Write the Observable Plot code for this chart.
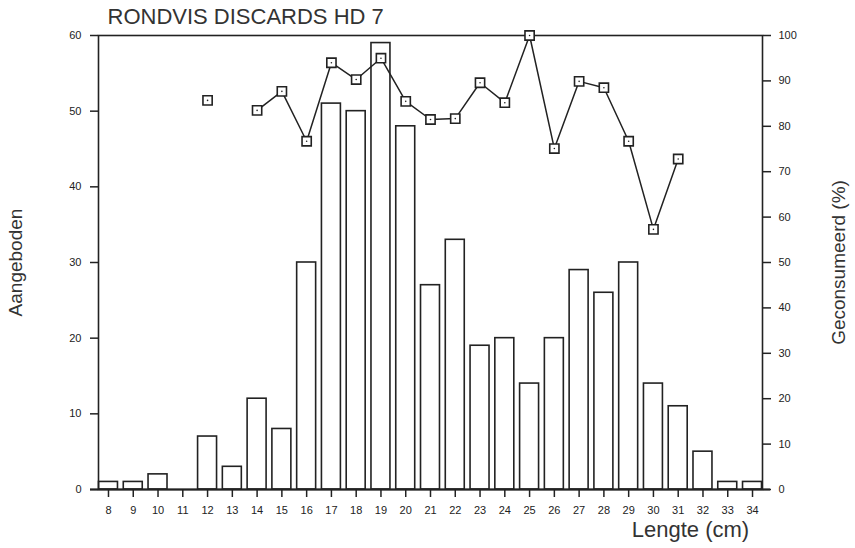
<!DOCTYPE html>
<html>
<head>
<meta charset="utf-8">
<script src="https://cdn.jsdelivr.net/npm/d3@7"></script>
<script src="https://cdn.jsdelivr.net/npm/@observablehq/plot@0.6"></script>
<style>
  html, body { margin: 0; padding: 0; background: #fff; }
  svg { font-family: "Liberation Sans", Arial, sans-serif; }
</style>
</head>
<body>
<div id="chart"></div>
<script>
const title = "RONDVIS DISCARDS HD 7";
const xLabel = "Lengte (cm)";
const yLeftLabel = "Aangeboden";
const yRightLabel = "Geconsumeerd (%)";

const lengths = [8, 9, 10, 11, 12, 13, 14, 15, 16, 17, 18, 19, 20, 21, 22, 23, 24, 25, 26, 27, 28, 29, 30, 31, 32, 33, 34];
const offered = [1, 1, 2, 0, 7, 3, 12, 8, 30, 51, 50, 59, 48, 27, 33, 19, 20, 14, 20, 29, 26, 30, 14, 11, 5, 1, 1];
const consumedPct = [null, null, null, null, 85.7, null, 83.5, 87.7, 76.7, 94, 90.3, 95, 85.5, 81.5, 81.7, 89.6, 85.2, 100, 75.1, 89.9, 88.5, 76.7, 57.3, 72.8, null, null, null];

const leftTicks = [0, 10, 20, 30, 40, 50, 60];
const rightTicks = [0, 10, 20, 30, 40, 50, 60, 70, 80, 90, 100];

const leftMax = 60, rightMax = 100;
const toLeft = p => p * leftMax / rightMax;

const rows = lengths.map((l, i) => ({len: l, n: offered[i], pct: consumedPct[i]}));
const pts = rows.filter(d => d.pct != null);
const ink = "#222";

const chart = Plot.plot({
  width: 855,
  height: 548,
  marginLeft: 98,
  marginRight: 93,
  marginTop: 35,
  marginBottom: 59,
  style: {fontFamily: "'Liberation Sans', Arial, sans-serif", fontSize: "11px", color: ink, background: "#fff"},
  x: {type: "band", domain: lengths, paddingInner: 0.234, paddingOuter: 0.02, round: false},
  y: {domain: [0, leftMax]},
  marks: [
    Plot.barY(rows, {x: "len", y: "n", fill: "#fff", stroke: ink, strokeWidth: 1.6}),
    Plot.frame({stroke: ink, strokeWidth: 1.6}),
    Plot.ruleY([0], {stroke: ink, strokeWidth: 1.8, insetLeft: -8, insetRight: -8}),
    Plot.line(rows, {x: "len", y: d => d.pct == null ? NaN : toLeft(d.pct), stroke: ink, strokeWidth: 1.5}),
    Plot.dot(pts, {x: "len", y: d => toLeft(d.pct), symbol: "square", r: 5.2, fill: "#fff", stroke: ink, strokeWidth: 1.6}),
    Plot.dot(pts, {x: "len", y: d => toLeft(d.pct), r: 0.8, fill: ink}),
    Plot.axisY({anchor: "left", ticks: leftTicks, tickSize: 8, tickPadding: 9, label: null, stroke: ink, strokeWidth: 1.5, fontSize: 11}),
    Plot.axisY({anchor: "right", ticks: rightTicks.map(toLeft), tickFormat: d => Math.round(d * rightMax / leftMax), tickSize: 8, tickPadding: 8, label: null, strokeWidth: 1.5, fontSize: 11}),
    Plot.axisX({anchor: "bottom", ticks: lengths, tickSize: 8, tickPadding: 9, label: null, strokeWidth: 1.5, fontSize: 11}),
    Plot.text([title], {frameAnchor: "top-left", dx: 9, dy: -27, textAnchor: "start", fontSize: 22, fill: "#333"}),
    Plot.text([yLeftLabel], {frameAnchor: "left", dx: -83, rotate: -90, textAnchor: "middle", fontSize: 19, fill: "#333"}),
    Plot.text([yRightLabel], {frameAnchor: "right", dx: 76, rotate: -90, textAnchor: "middle", fontSize: 19, fill: "#333"}),
    Plot.text([xLabel], {frameAnchor: "bottom", dx: 260, dy: 47, fontSize: 22, fill: "#333"})
  ]
});
document.getElementById("chart").appendChild(chart);
</script>
</body>
</html>
